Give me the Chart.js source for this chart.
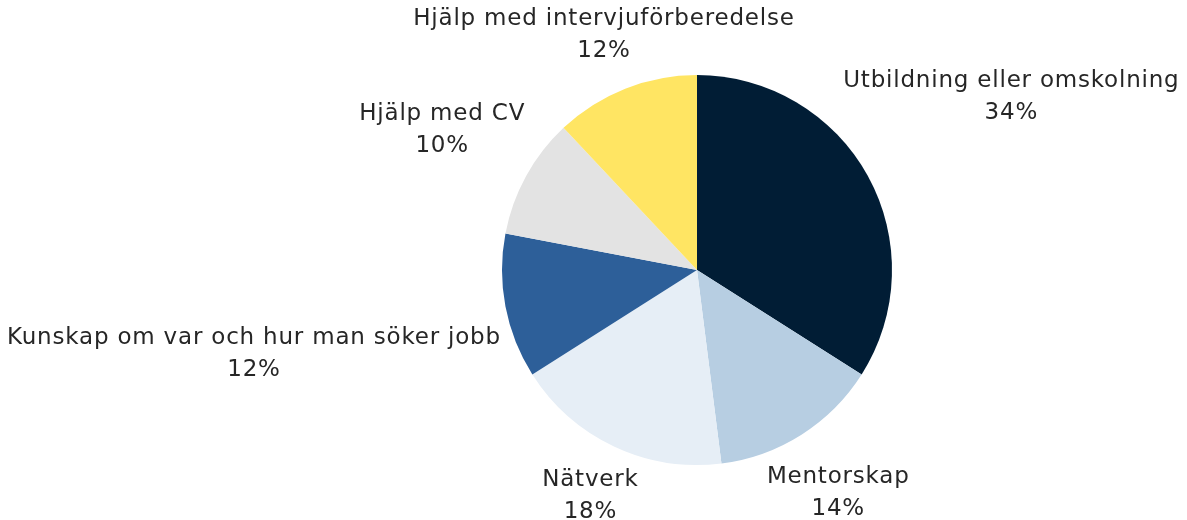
<!DOCTYPE html>
<html>
<head>
<meta charset="utf-8">
<script src="https://cdn.jsdelivr.net/npm/chart.js@4.4.0/dist/chart.umd.min.js"></script>
<style>
  html, body { margin: 0; padding: 0; background: #fff; }
  #wrap { width: 1187px; height: 520px; position: relative; }
</style>
</head>
<body>
<div id="wrap"><canvas id="chart"></canvas></div>
<script>
const labels = [
  'Utbildning eller omskolning',
  'Mentorskap',
  'Nätverk',
  'Kunskap om var och hur man söker jobb',
  'Hjälp med CV',
  'Hjälp med intervjuförberedelse'
];
const values = [34, 14, 18, 12, 10, 12];
const colors = ['#011d35', '#b7cee2', '#e6eef6', '#2d5f99', '#e3e3e3', '#ffe563'];

const labelFont = '23px "DejaVu Sans"';
const lineHeight = 32;
const gap = 8;

// draws "name\nxx%" outside each slice, pushed out along the slice's mid angle
const outsideLabels = {
  id: 'outsideLabels',
  afterDatasetsDraw(chart) {
    const ctx = chart.ctx;
    const meta = chart.getDatasetMeta(0);
    ctx.save();
    ctx.font = labelFont;
    ctx.letterSpacing = '0.8px';
    ctx.fillStyle = '#262626';
    ctx.textAlign = 'center';
    ctx.textBaseline = 'middle';
    meta.data.forEach((arc, i) => {
      const p = arc.getProps(['x', 'y', 'startAngle', 'endAngle', 'outerRadius'], true);
      const a = (p.startAngle + p.endAngle) / 2;
      const lines = [labels[i], values[i] + '%'];
      const w = Math.max(...lines.map(t => ctx.measureText(t).width));
      const h = lineHeight * lines.length;
      const target = p.outerRadius + gap;
      let lo = 0, hi = 1000;
      for (let k = 0; k < 40; k++) {
        const d = (lo + hi) / 2;
        const cx = Math.cos(a) * d, cy = Math.sin(a) * d;
        const nx = Math.max(Math.abs(cx) - w / 2, 0);
        const ny = Math.max(Math.abs(cy) - h / 2, 0);
        if (Math.hypot(nx, ny) < target) lo = d; else hi = d;
      }
      const cx = p.x + Math.cos(a) * hi;
      const cy = p.y + Math.sin(a) * hi;
      lines.forEach((t, j) => {
        ctx.fillText(t, cx, cy - h / 2 + lineHeight * (j + 0.5));
      });
    });
    ctx.restore();
  }
};

new Chart(document.getElementById('chart'), {
  type: 'pie',
  data: {
    labels: labels,
    datasets: [{
      data: values,
      backgroundColor: colors,
      borderWidth: 0
    }]
  },
  options: {
    responsive: true,
    maintainAspectRatio: false,
    animation: false,
    layout: {
      padding: { left: 502, right: 295, top: 75, bottom: 55 }
    },
    plugins: {
      legend: { display: false },
      tooltip: { enabled: false }
    }
  },
  plugins: [outsideLabels]
});
</script>
</body>
</html>
